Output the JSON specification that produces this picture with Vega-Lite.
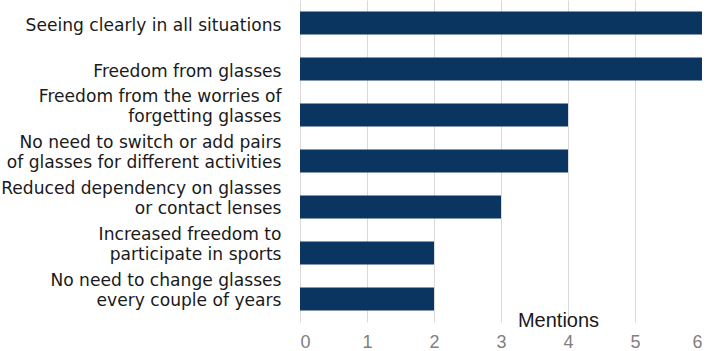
{
  "$schema": "https://vega.github.io/schema/vega-lite/v6.json",
  "width": 402,
  "height": 322,
  "padding": {"left": 0, "top": 0, "right": 0, "bottom": 0},
  "autosize": {"type": "pad"},
  "background": "white",
  "data": {"values": [
    {"benefit": "Seeing clearly in all situations", "order": 1, "mentions": 6},
    {"benefit": "Freedom from glasses", "order": 2, "mentions": 6},
    {"benefit": "Freedom from the worries of|forgetting glasses", "order": 3, "mentions": 4},
    {"benefit": "No need to switch or add pairs|of glasses for different activities", "order": 4, "mentions": 4},
    {"benefit": "Reduced dependency on glasses|or contact lenses", "order": 5, "mentions": 3},
    {"benefit": "Increased freedom to|participate in sports", "order": 6, "mentions": 2},
    {"benefit": "No need to change glasses|every couple of years", "order": 7, "mentions": 2}
  ]},
  "mark": {"type": "bar", "color": "#0b3561"},
  "encoding": {
    "y": {
      "field": "benefit", "type": "nominal",
      "sort": {"field": "order"},
      "scale": {"paddingInner": 0.5, "paddingOuter": 0.25},
      "axis": {
        "title": null, "domain": false, "ticks": false,
        "labelExpr": "split(datum.label, '|')",
        "labelFont": "DejaVu Sans", "labelFontSize": 17.1, "labelColor": "#1a1a1a",
        "labelPadding": 19, "labelLineHeight": 20, "labelLimit": 400,
        "labelOffset": {"condition": {"test": "indexof(datum.value, '|') >= 0", "value": -18}, "value": 3}
      }
    },
    "x": {
      "field": "mentions", "type": "quantitative",
      "scale": {"domain": [0, 6], "nice": false},
      "axis": {
        "values": [0, 1, 2, 3, 4, 5, 6], "format": "d",
        "domain": false, "ticks": false, "grid": true, "gridColor": "#d9d9d9",
        "labelFont": "Liberation Sans", "labelFontSize": 18, "labelColor": "#808080",
        "labelPadding": 11,
        "title": "Mentions", "titleFont": "Liberation Sans", "titleFontSize": 20,
        "titleFontWeight": "normal", "titleColor": "#1a1a1a",
        "titleAnchor": "start", "titleAlign": "center", "titleBaseline": "middle",
        "titleX": 258, "titleY": -2
      }
    }
  },
  "config": {"view": {"stroke": null}}
}
